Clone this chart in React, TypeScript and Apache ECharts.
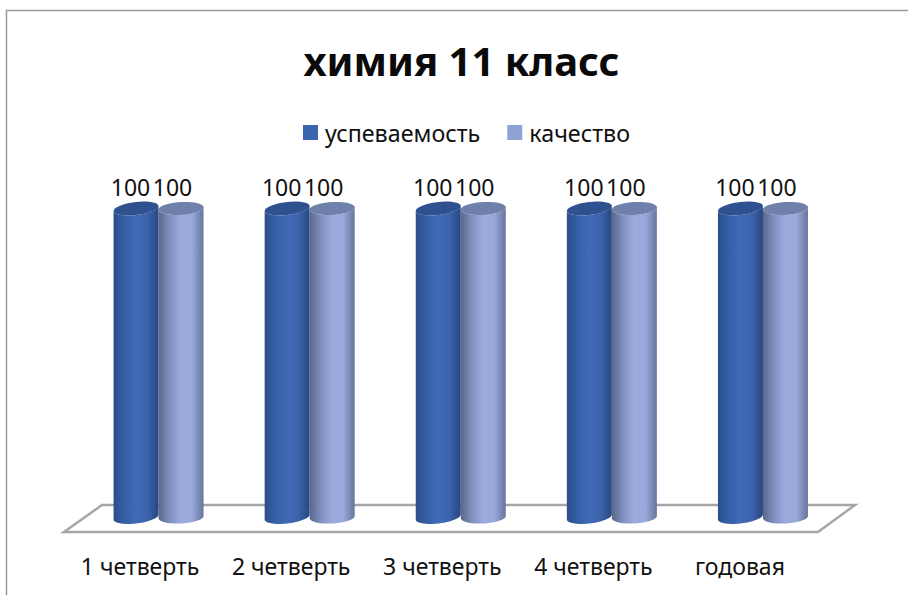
import React, { useEffect, useRef } from "react";
import * as echarts from "echarts";

const categories = ["1 четверть", "2 четверть", "3 четверть", "4 четверть", "годовая"];
const performance = [100, 100, 100, 100, 100];
const quality = [100, 100, 100, 100, 100];
const FONT = '"Noto Sans", sans-serif';

function arc(cx: number, cy: number, rx: number, ry: number, k: number, from: number, to: number) {
  const pts: number[][] = [];
  const n = 40;
  for (let i = 0; i <= n; i++) {
    const t = from + ((to - from) * i) / n;
    pts.push([cx + rx * Math.cos(t), cy + ry * Math.sin(t) + k * rx * Math.cos(t)]);
  }
  return pts;
}

function cylinder(offset: number, labelDx: number, k: number, stops: string[], topColor: string) {
  return (_params: any, api: any) => {
    const cat = api.value(0);
    const val = api.value(1);
    const top = api.coord([cat, val]);
    const base = api.coord([cat, 0]);
    const cx = top[0] + offset;
    const rx = 22.5;
    const ryTop = 6.5;
    const ryBase = 6.5;
    const body = [
      ...arc(cx, top[1], rx, ryTop, k, Math.PI, 0),
      ...arc(cx, base[1], rx, ryBase, k, 0, Math.PI),
    ];
    const fill = new echarts.graphic.LinearGradient(
      0, 0, 1, 0,
      stops.map((color, i) => ({ offset: i / (stops.length - 1), color }))
    );
    return {
      type: "group",
      children: [
        { type: "polygon", shape: { points: body }, style: { fill } },
        { type: "polygon", shape: { points: arc(cx, top[1], rx, ryTop, k, 0, Math.PI * 2) }, style: { fill: topColor } },
        {
          type: "text",
          style: {
            x: cx + labelDx,
            y: top[1] - 22,
            text: String(val),
            fill: "#111111",
            font: `23px ${FONT}`,
            align: "center",
            verticalAlign: "middle",
          },
        },
      ],
    };
  };
}

export default function App() {
  const ref = useRef<HTMLDivElement>(null);
  useEffect(() => {
    document.body.style.margin = "0";
    const chart = echarts.init(ref.current!, undefined, { renderer: "svg" });
    chart.setOption({
      animation: false,
      backgroundColor: "#ffffff",
      title: {
        text: "химия 11 класс",
        left: 456.5,
        top: 35,
        textAlign: "center",
        textStyle: { fontFamily: FONT, fontWeight: "bold", fontSize: 40, color: "#0a0a0a" },
      },
      legend: {
        top: 116,
        left: 298,
        icon: "rect",
        itemWidth: 15,
        itemHeight: 15,
        itemGap: 27,
        textStyle: { fontFamily: FONT, fontSize: 23.3, color: "#111111", padding: [0, 0, 0, 2] },
        data: ["успеваемость", "качество"],
      },
      grid: { left: 83, right: 69.5, top: 208.5, bottom: 78 },
      xAxis: {
        type: "category",
        data: categories.map((value, i) =>
          i === categories.length - 1 ? { value, textStyle: { padding: [0, 46, 0, 0] } } : value
        ),
        axisLine: { show: false },
        axisTick: { show: false },
        axisLabel: {
          fontFamily: FONT,
          fontSize: 23,
          color: "#111111",
          margin: 37,
          padding: [0, 37, 0, 0],
          interval: 0,
        },
      },
      yAxis: { type: "value", min: 0, max: 100, show: false },
      graphic: [
        {
          type: "polyline",
          z: 0,
          shape: { points: [[6.5, 595], [6.5, 10.5], [908, 10.5]] },
          style: { stroke: "#9a9a9a", lineWidth: 1.5, fill: "none" },
        },
        {
          type: "polygon",
          z: 0,
          shape: { points: [[64, 532], [102, 505], [855, 505], [818, 532]] },
          style: { stroke: "#a6a6a6", lineWidth: 2.5, fill: "#ffffff" },
        },
      ],
      series: [
        {
          type: "custom",
          name: "успеваемость",
          itemStyle: { color: "#3a64ae" },
          encode: { x: 0, y: 1 },
          data: performance.map((v, i) => [i, v]),
          renderItem: cylinder(-22.5, -5.5, -0.11, ["#2b4d8a", "#3560a8", "#4269b6", "#3c63ac", "#274780"], "#2f5190"),
        },
        {
          type: "custom",
          name: "качество",
          itemStyle: { color: "#8fa2d4" },
          encode: { x: 0, y: 1 },
          data: quality.map((v, i) => [i, v]),
          renderItem: cylinder(22.5, -8.5, -0.05, ["#596889", "#8090c0", "#9cabde", "#98a8da", "#66759b"], "#6f80ab"),
        },
      ],
    });
    return () => chart.dispose();
  }, []);
  return <div ref={ref} style={{ width: 908, height: 595 }} />;
}
